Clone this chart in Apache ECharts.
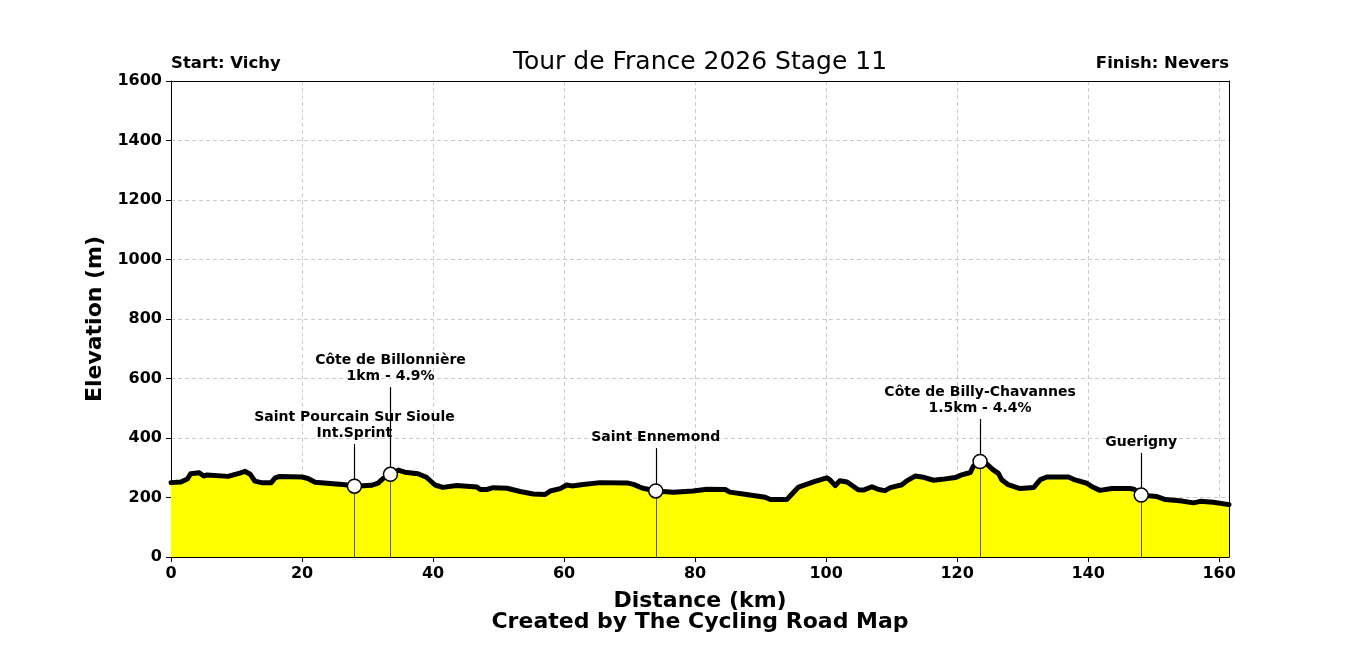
<!DOCTYPE html>
<html>
<head>
<meta charset="utf-8">
<script src="https://cdn.jsdelivr.net/npm/echarts@6/dist/echarts.min.js"></script>
<style>html,body{margin:0;padding:0;background:#fff;}#chart{width:1366px;height:655px;}</style>
</head>
<body>
<div id="chart"></div>
<script>
// Profile data (distance km, elevation m)
const distanceKm = [0, 1.5, 2.5, 3.0, 4.3, 5.0, 5.5, 8.7, 10.5, 11.3, 12.1, 12.8, 13.8, 15.3, 15.9, 16.6, 20.0, 20.9, 22.0, 26.6, 28.0, 30.6, 31.6, 32.4, 33.5, 34.7, 35.7, 37.7, 39.0, 40.3, 41.5, 43.6, 46.7, 47.2, 48.2, 49.2, 51.3, 53.3, 55.3, 57.1, 57.9, 59.4, 60.4, 61.2, 62.9, 65.5, 69.6, 70.6, 71.9, 74.0, 76.7, 79.7, 81.8, 84.6, 85.3, 88.1, 90.7, 91.5, 94.0, 94.5, 95.8, 98.3, 100.1, 100.6, 101.4, 102.1, 103.2, 104.9, 105.7, 107.0, 108.0, 109.0, 109.8, 111.6, 112.3, 113.6, 114.9, 116.4, 117.7, 119.7, 120.7, 122.0, 122.5, 123.5, 124.5, 125.5, 126.3, 126.8, 127.8, 129.6, 131.7, 132.7, 133.7, 137.0, 138.0, 139.8, 140.6, 141.8, 143.6, 146.4, 147.0, 148.1, 150.5, 151.8, 154.0, 156.1, 157.1, 159.1, 161.5];
const elevationM = [250, 252, 262, 280, 283, 272, 276, 271, 282, 288, 278, 255, 250, 250, 266, 271, 269, 264, 251, 243, 238, 241, 248, 264, 278, 292, 285, 280, 268, 242, 234, 240, 235, 227, 227, 233, 231, 220, 212, 210, 222, 230, 242, 239, 244, 250, 249, 244, 232, 222, 218, 222, 228, 227, 218, 209, 201, 193, 193, 205, 235, 254, 266, 259, 240, 256, 252, 226, 225, 236, 227, 223, 233, 243, 256, 272, 268, 258, 261, 267, 276, 284, 306, 321, 313, 293, 281, 260, 243, 230, 234, 260, 269, 269, 259, 248, 236, 224, 230, 230, 228, 208, 203, 193, 189, 182, 187, 184, 176];

// Points of interest
const poiKm = [28.0, 33.5, 74.0, 123.5, 148.1];
const poiElev = [238, 278, 222, 321, 208];
const poiLabelElev = [380, 571, 366, 464, 350];
const poiLabels = ["Saint Pourcain Sur Sioule\nInt.Sprint", "Côte de Billonnière\n1km - 4.9%", "Saint Ennemond", "Côte de Billy-Chavannes\n1.5km - 4.4%", "Guerigny"];

// Axis ticks
const xTicks = [0, 20, 40, 60, 80, 100, 120, 140, 160];
const yTicks = [0, 200, 400, 600, 800, 1000, 1200, 1400, 1600];

const FONT = "DejaVu Sans";
const X_MAX = 161.5;
const profile = distanceKm.map((d, i) => [d, elevationM[i]]);

const frameAxis = {show: true, axisLine: {show: true, onZero: false, lineStyle: {color: '#000', width: 1}}, axisTick: {show: false}, axisLabel: {show: false}, splitLine: {show: false}};

const chart = echarts.init(document.getElementById('chart'), null, {renderer: 'canvas'});
chart.setOption({
  animation: false,
  backgroundColor: '#fff',
  textStyle: {fontFamily: FONT},
  grid: {left: 171, right: 137, top: 81, bottom: 98, show: false, containLabel: false},
  graphic: [
    {type: 'text', x: 700, y: 62, style: {text: 'Tour de France 2026 Stage 11', font: 'normal 25px "DejaVu Sans"', fill: '#000', textAlign: 'center', textVerticalAlign: 'middle'}},
    {type: 'text', x: 171, y: 64, style: {text: 'Start: Vichy', font: 'bold 16.5px "DejaVu Sans"', fill: '#000', textAlign: 'left', textVerticalAlign: 'middle'}},
    {type: 'text', x: 1229, y: 64, style: {text: 'Finish: Nevers', font: 'bold 16.5px "DejaVu Sans"', fill: '#000', textAlign: 'right', textVerticalAlign: 'middle'}},
    {type: 'text', x: 700, y: 622, style: {text: 'Created by The Cycling Road Map', font: 'bold 22px "DejaVu Sans"', fill: '#000', textAlign: 'center', textVerticalAlign: 'middle'}}
  ],
  xAxis: [{
    type: 'value', min: xTicks[0], max: X_MAX, interval: xTicks[1] - xTicks[0],
    name: 'Distance (km)', nameLocation: 'middle', nameGap: 33,
    nameTextStyle: {fontFamily: FONT, fontWeight: 'bold', fontSize: 22, color: '#000'},
    axisLine: {show: true, onZero: false, lineStyle: {color: '#000', width: 1}},
    axisTick: {show: true, length: 5, lineStyle: {color: '#000'}},
    axisLabel: {color: '#000', fontFamily: FONT, fontWeight: 'bold', fontSize: 16, margin: 9, showMaxLabel: false,
      formatter: v => xTicks.includes(v) ? String(v) : ''},
    splitLine: {show: true, lineStyle: {color: '#cccccc', type: [4, 3], width: 1}}
  }, Object.assign({type: 'value', position: 'top', min: xTicks[0], max: X_MAX}, frameAxis)],
  yAxis: [{
    type: 'value', min: yTicks[0], max: yTicks[yTicks.length - 1], interval: yTicks[1] - yTicks[0],
    name: 'Elevation (m)', nameLocation: 'middle', nameGap: 52,
    nameTextStyle: {fontFamily: FONT, fontWeight: 'bold', fontSize: 22, color: '#000'},
    axisLine: {show: true, onZero: false, lineStyle: {color: '#000', width: 1}},
    axisTick: {show: true, length: 5, lineStyle: {color: '#000'}},
    axisLabel: {color: '#000', fontFamily: FONT, fontWeight: 'bold', fontSize: 16, margin: 9, formatter: v => String(v)},
    splitLine: {show: true, lineStyle: {color: '#cccccc', type: [4, 3], width: 1}}
  }, Object.assign({type: 'value', position: 'right', min: yTicks[0], max: yTicks[yTicks.length - 1]}, frameAxis)],
  series: [
    {
      type: 'line', data: profile, symbol: 'none', smooth: false, z: 2,
      lineStyle: {color: '#000', width: 5, join: 'round', cap: 'round'},
      areaStyle: {color: '#ffff00', opacity: 1, origin: 'start'},
      markLine: {
        silent: true, symbol: ['none', 'none'], label: {show: false},
        data: poiKm.map((k, i) => [
          {coord: [k, 0], lineStyle: {color: '#555', width: 1, type: 'solid'}},
          {coord: [k, poiElev[i]]}
        ]).concat(poiKm.map((k, i) => [
          {coord: [k, poiElev[i]], lineStyle: {color: '#000', width: 1.2, type: 'solid'}},
          {coord: [k, poiLabelElev[i]]}
        ]))
      }
    },
    {
      type: 'scatter', z: 5, symbol: 'circle', symbolSize: 14,
      itemStyle: {color: '#fff', borderColor: '#000', borderWidth: 1.5, opacity: 1},
      data: poiKm.map((k, i) => [k, poiElev[i]])
    },
    {
      type: 'scatter', z: 6, symbolSize: 0, silent: true,
      itemStyle: {opacity: 1},
      data: poiKm.map((k, i) => ({value: [k, poiLabelElev[i]], label: {formatter: poiLabels[i]}})),
      label: {show: true, position: 'top', distance: 3, color: '#000', opacity: 1, fontFamily: FONT, fontWeight: 'bold', fontSize: 14, lineHeight: 16, align: 'center'}
    }
  ]
});
</script>
</body>
</html>
